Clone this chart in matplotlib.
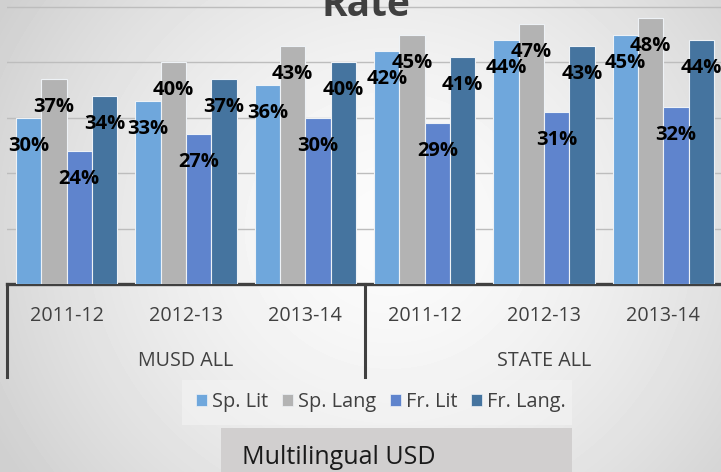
import numpy as np
import matplotlib
matplotlib.use("Agg")
import matplotlib.pyplot as plt
from matplotlib.patches import Rectangle
from matplotlib.lines import Line2D
import matplotlib.transforms as mtransforms

plt.rcParams['font.family'] = ['Open Sans', 'DejaVu Sans']

# ---- data ----
years = ['2011-12', '2012-13', '2013-14', '2011-12', '2012-13', '2013-14']
groups = ['MUSD ALL', 'STATE ALL']
series_names = ['Sp. Lit', 'Sp. Lang', 'Fr. Lit', 'Fr. Lang.']
sp_lit = [30, 33, 36, 42, 44, 45]
sp_lang = [37, 40, 43, 45, 47, 48]
fr_lit = [24, 27, 30, 29, 31, 32]
fr_lang = [34, 37, 40, 41, 43, 44]
series_values = [sp_lit, sp_lang, fr_lit, fr_lang]
colors = ['#6fa7dc', '#b3b3b3', '#5f84cd', '#45749f']

W, H = 721, 472
fig = plt.figure(figsize=(W / 100, H / 100), dpi=100)

# background radial gradient
yy, xx = np.mgrid[0:H, 0:W]
d = np.sqrt(((xx - 390) / 1.0) ** 2 + ((yy - 230) / 0.95) ** 2)
grad = 0.985 - 0.17 * np.clip(d / 450, 0, 1) ** 1.6
bg = fig.add_axes([0, 0, 1, 1], zorder=-10)
bg.imshow(grad, cmap='gray', vmin=0, vmax=1, aspect='auto', interpolation='bilinear')
bg.axis('off')

# legend background and text box
fig.add_artist(Rectangle((182 / W, 1 - 425 / H), 390 / W, 45 / H, transform=fig.transFigure,
                         facecolor='#f4f4f4', edgecolor='none', alpha=0.6, zorder=-5))
fig.add_artist(Rectangle((221 / W, 1 - 472 / H), 351 / W, 44 / H, transform=fig.transFigure,
                         facecolor='#d1cfcf', edgecolor='none', zorder=-5))

ax = fig.add_axes([7 / W, 188 / H, 716 / W, 284 / H])
ax.set_facecolor('none')
ax.set_xlim(0, len(years))
ax.set_ylim(0, 51.26)

slot = 0.2117
centers = np.arange(len(years)) + 0.5
for k, (vals, c, name) in enumerate(zip(series_values, colors, series_names)):
    xs = centers + (k - 1.5) * slot
    ax.bar(xs, vals, width=slot, color=c, edgecolor='#eef2f6', linewidth=0.8, label=name, zorder=3)
    for x, v in zip(xs, vals):
        ax.annotate(f'{v}%', xy=(x, v), xytext=(0, -28), textcoords='offset pixels',
                    ha='center', va='center', fontsize=14.5, fontweight='bold',
                    color='black', zorder=6, annotation_clip=False)

ax.set_yticks([10, 20, 30, 40, 50])
ax.yaxis.grid(True, color='#bdbdbd', linewidth=1)
ax.set_axisbelow(True)
ax.tick_params(axis='y', left=False, labelleft=False)
ax.set_xticks([])
for s in ['top', 'right', 'left']:
    ax.spines[s].set_visible(False)
ax.spines['bottom'].set_color('#404040')
ax.spines['bottom'].set_linewidth(2.4)

# two-level category axis
for x, lab in zip(centers, years):
    ax.annotate(lab, xy=(x, 0), xycoords=('data', 'axes fraction'), xytext=(0, -32),
                textcoords='offset pixels', ha='center', va='center', fontsize=14.2,
                color='#404040', annotation_clip=False)
n_per = len(years) // len(groups)
for g, lab in enumerate(groups):
    ax.annotate(lab, xy=(g * n_per + n_per / 2, 0), xycoords=('data', 'axes fraction'),
                xytext=(0, -77), textcoords='offset pixels', ha='center', va='center',
                fontsize=14.2, color='#404040', annotation_clip=False)
trans = mtransforms.blended_transform_factory(ax.transData, ax.transAxes)
for g in range(len(groups) + 1):
    ax.add_line(Line2D([g * n_per, g * n_per], [0, -93 / 284], transform=trans,
                       color='#404040', linewidth=2.2, clip_on=False))

# legend
handles = [Rectangle((0, 0), 1, 1, facecolor=c, edgecolor='#eef2f6', linewidth=0.5) for c in colors]
leg = fig.legend(handles, series_names, loc='center', bbox_to_anchor=(381 / W, 1 - 402 / H),
                 ncol=4, frameon=False, fontsize=14.3, handlelength=0.55, handleheight=0.55,
                 handletextpad=0.25, columnspacing=0.7, borderpad=0)
for t in leg.get_texts():
    t.set_color('#404040')

fig.text(366 / W, 1 - 16 / H, 'Rate', ha='center', va='baseline', fontsize=28,
         fontweight='bold', color='#404040')
fig.text(242 / W, 1 - 457 / H, 'Multilingual USD', ha='left', va='center', fontsize=18,
         color='#1a1a1a')

fig.savefig('out.png', dpi=100)
